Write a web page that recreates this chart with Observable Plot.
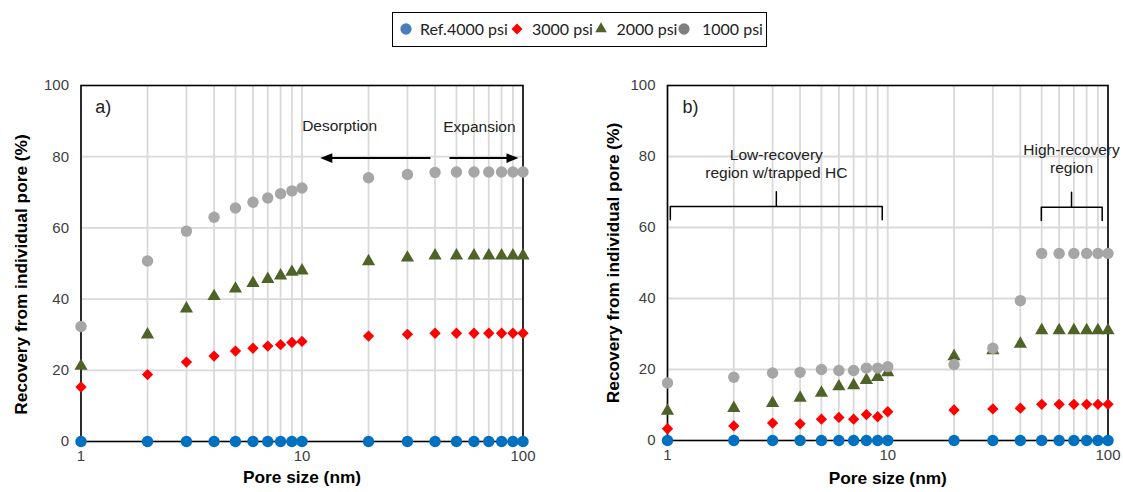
<!DOCTYPE html>
<html><head><meta charset="utf-8">
<script src="https://cdn.jsdelivr.net/npm/d3@7"></script>
<script src="https://cdn.jsdelivr.net/npm/@observablehq/plot@0.6"></script>
<style>
body{margin:0;background:#fff;width:1123px;height:492px;overflow:hidden;font-family:"Liberation Sans",Arial,sans-serif;}
#legend{height:56px;position:relative;}
#legbox{position:absolute;left:392px;top:12px;width:375px;height:35px;border:1.3px solid #000;box-sizing:border-box;font-family:Lato,"Liberation Sans",sans-serif;font-size:16px;color:#222;}
#legbox svg, #legbox span{position:absolute;}
#row{display:flex;}
</style>
</head><body>
<div id="legend"><div id="legbox"></div></div>
<div id="row"></div>
<script>
// ---------- data ----------
const pores = [1,2,3,4,5,6,7,8,9,10,20,30,40,50,60,70,80,90,100];
const seriesNames = ["Ref.4000 psi","3000 psi","2000 psi","1000 psi"];
const refA  = [0,0,0,0,0,0,0,0,0,0,0,0,0,0,0,0,0,0,0];
const a3000 = [15.3,18.8,22.3,24,25.4,26.2,26.8,27.2,27.8,28.1,29.6,30.1,30.4,30.4,30.4,30.4,30.4,30.4,30.4];
const a2000 = [21.2,30,37.3,40.8,42.9,44.5,45.6,46.6,47.6,48,50.6,51.6,52.2,52.2,52.2,52.2,52.2,52.2,52.2];
const a1000 = [32.3,50.7,59.1,63,65.6,67.2,68.4,69.6,70.4,71.2,74.1,75,75.6,75.7,75.7,75.7,75.7,75.7,75.7];
const refB  = [0,0,0,0,0,0,0,0,0,0,0,0,0,0,0,0,0,0,0];
const b3000 = [3.3,4.1,4.9,4.7,6,6.5,6,7.3,6.7,8.1,8.6,8.9,9.1,10.2,10.2,10.2,10.2,10.2,10.2];
const b2000 = [8.3,9.1,10.5,12,13.4,15.2,15.5,17,17.8,19.2,23.7,25.4,27.2,31,31,31,31,31,31];
const b1000 = [16.2,17.8,19,19.2,20,19.7,19.7,20.4,20.4,20.8,21.4,26,39.4,52.7,52.7,52.7,52.7,52.7,52.7];
const yTicks = [0,20,40,60,80,100];
const xTicks = [1,10,100];
const gridXValues = [1,2,3,4,5,6,7,8,9,10,20,30,40,50,60,70,80,90,100];
const gridYValues = [20,40,60,80];
const xLabel = "Pore size (nm)";
const yLabel = "Recovery from individual pore (%)";
// annotations (data coordinates)
const notesA = [{x:14.8, y:88.5, text:"Desorption"}, {x:63.5, y:88.3, text:"Expansion"}];
const arrowsA = [{x1:38.1, x2:12.1, y:79.6, dir:"left"}, {x1:46.5, x2:95.4, y:79.6, dir:"right"}];
const notesB = [{x:3.12, y:78.2, text:"Low-recovery\nregion w/trapped HC"}, {x:68.3, y:79.5, text:"High-recovery\nregion"}];
const bracketsB = [
  {x1:1.03, xc:3.12, x2:9.44, yLow:62.2, yH:65.9, yTop:70.1},
  {x1:49.8, xc:68.3, x2:94.1, yLow:62, yH:65.7, yTop:69.9}
];

// ---------- styles ----------
const plotColors = ["#0070c0","#ff0000","#4f6228","#a6a6a6"];
const legendColors = ["#4a7ebb","#ff0000","#4f6228","#7f7f7f"];
const symbols = ["circle","diamond2","triangle","circle"];
const radii = [5.7,5.1,4.9,5.7];

const headRight = {draw(ctx){ctx.moveTo(0,0);ctx.lineTo(-12,-4.8);ctx.lineTo(-12,4.8);ctx.closePath();}};
const headLeft  = {draw(ctx){ctx.moveTo(0,0);ctx.lineTo(12,-4.8);ctx.lineTo(12,4.8);ctx.closePath();}};

// ---------- legend ----------
const legbox = document.getElementById("legbox");
const legSym = [d3.symbolCircle, d3.symbolDiamond2, d3.symbolTriangle, d3.symbolCircle];
const legSize = [100, 77, 58, 100];
const symX = [14, 125.3, 209.5, 292.3];
const txtX = [28.3, 140.3, 224.8, 310.3];
seriesNames.forEach((name, i) => {
  const s = d3.create("svg").attr("width", 16).attr("height", 16)
    .style("left", (symX[i] - 8 - 1.3) + "px").style("top", (17 - 8 - 1.3 + 0.5) + "px");
  s.append("path").attr("transform", "translate(8,8)")
    .attr("d", d3.symbol(legSym[i], legSize[i])()).attr("fill", legendColors[i]);
  legbox.appendChild(s.node());
  const t = document.createElement("span");
  t.textContent = name;
  t.style.left = (txtX[i] - 1.3) + "px";
  t.style.top = "6px";
  t.style.lineHeight = "20px";
  legbox.appendChild(t);
});

// ---------- panels ----------
function panel(opts) {
  const {width, ml, mr, mb, series, ylDx, ylDy, xlDy, tag, tagX, extra} = opts;
  const marks = [
    Plot.ruleX(gridXValues, {stroke:"#d9d9d9", strokeWidth:1.8}),
    Plot.ruleY(gridYValues, {stroke:"#d9d9d9", strokeWidth:1.8}),
    Plot.frame({stroke:"#000", strokeWidth:1.6}),
    Plot.axisY({ticks: yTicks, tickSize:0, tickPadding:12, label:null, fontSize:15, color:"#404040"}),
    Plot.axisX({ticks: xTicks, tickSize:0, tickPadding:9, label:null, fontSize:15, color:"#404040", tickFormat: d => String(d)}),
    Plot.text([yLabel], {text: d => d, frameAnchor:"left", textAnchor:"middle", rotate:-90, dx:ylDx, dy:ylDy, fontSize:17.3, fontWeight:"bold", fill:"#000"}),
    Plot.text([xLabel], {text: d => d, frameAnchor:"bottom", dy:xlDy, fontSize:17.3, fontWeight:"bold", fill:"#000"}),
    Plot.text([tag], {text: d => d, x: () => tagX, y: () => 94, textAnchor:"start", fontSize:18, fill:"#222"}),
    ...extra
  ];
  series.forEach((vals, i) => {
    marks.push(Plot.dot(pores.map((p, j) => ({x: p, y: vals[j]})),
      {x:"x", y:"y", symbol: symbols[i], r: radii[i], fill: plotColors[i]}));
  });
  return Plot.plot({
    width, height: 436,
    marginTop: 29, marginBottom: mb, marginLeft: ml, marginRight: mr,
    x: {type:"log", domain:[1,100]},
    y: {domain:[0,100]},
    style: {fontFamily:'"Liberation Sans", Arial, sans-serif', background:"transparent", overflow:"visible"},
    marks
  });
}

const extraA = [
  Plot.text(notesA, {x:"x", y:"y", text:"text", fontSize:15.5, fill:"#222"}),
  Plot.link(arrowsA, {x1:"x1", x2: d => d.dir === "left" ? d.x2 * 1.08 : d.x2 / 1.08, y1:"y", y2:"y", stroke:"#000", strokeWidth:2}),
  Plot.dot(arrowsA.filter(d => d.dir === "left"), {x:"x2", y:"y", symbol: headLeft, fill:"#000"}),
  Plot.dot(arrowsA.filter(d => d.dir === "right"), {x:"x2", y:"y", symbol: headRight, fill:"#000"})
];
const bracketPts = [];
bracketsB.forEach((b, k) => {
  [[b.x1,b.yLow],[b.x1,b.yH],[b.xc,b.yH],[b.xc,b.yTop],[b.xc,b.yH],[b.x2,b.yH],[b.x2,b.yLow]]
    .forEach(([x, y]) => bracketPts.push({x, y, k}));
});
const extraB = [
  Plot.text(notesB, {x:"x", y:"y", text:"text", fontSize:15.5, fill:"#222", lineHeight:1.18}),
  Plot.line(bracketPts, {x:"x", y:"y", z:"k", stroke:"#000", strokeWidth:1.5, strokeLinejoin:"round"})
];

const row = document.getElementById("row");
row.appendChild(panel({width:561, ml:80.5, mr:38.5, mb:51, series:[refA,a3000,a2000,a1000], ylDx:-60, ylDy:11, xlDy:41, tag:"a)", tagX:1.16, extra:extraA}));
row.appendChild(panel({width:562, ml:106, mr:15.5, mb:52, series:[refB,b3000,b2000,b1000], ylDx:-54, ylDy:0, xlDy:43, tag:"b)", tagX:1.17, extra:extraB}));
</script>
</body></html>
